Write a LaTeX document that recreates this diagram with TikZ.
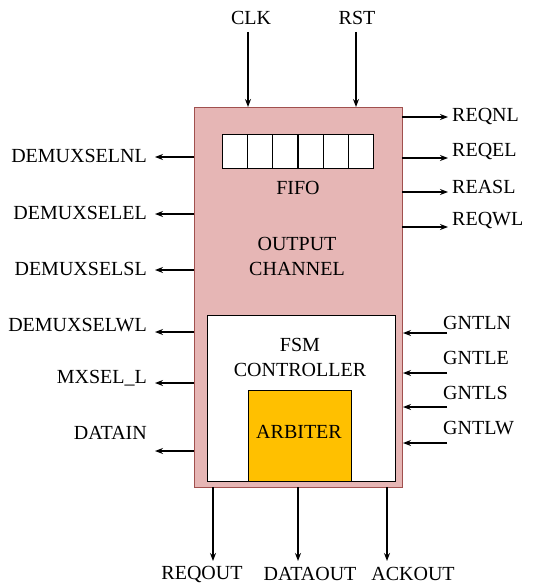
\documentclass[tikz,border=0pt]{standalone}
\usepackage{fontspec}
\setmainfont{Liberation Serif}
\usetikzlibrary{arrows.meta}
\definecolor{pinkfill}{RGB}{230,182,181}
\definecolor{pinkdraw}{RGB}{160,80,78}
\definecolor{arbfill}{RGB}{255,192,0}
\begin{document}
\begin{tikzpicture}[x=1pt,y=-1pt,
  lbl/.style={font=\rmfamily\fontsize{20}{22}\selectfont, inner sep=0pt},
  sig/.style={line width=1.4pt, -{Stealth[length=8pt,width=6pt]}},
  cell/.style={draw=black, line width=1pt, fill=white, minimum width=25pt, minimum height=34pt, inner sep=0pt, anchor=north west}]
\useasboundingbox (0,0) rectangle (534,588);
\fill[white] (0,0) rectangle (534,588);
% main box
\node[draw=pinkdraw, fill=pinkfill, line width=0.8pt, minimum width=208pt, minimum height=380pt, anchor=north west, inner sep=0pt] (main) at (194,107) {};
% FIFO cells
\foreach \i in {0,...,5} {
  \node[cell] (c\i) at (222+25.2*\i,134) {};
}
\node[lbl] (fifo) at (298,188) {FIFO};
\node[lbl, align=center] (oc) at (297,256) {OUTPUT\\[3pt]CHANNEL};
% FSM box
\node[draw=black, fill=white, line width=1pt, minimum width=188pt, minimum height=166pt, anchor=north west, inner sep=0pt] (fsm) at (207,315) {};
\node[lbl, align=center] (fsml) at (300,357) {FSM\\[3pt]CONTROLLER};
% Arbiter
\node[draw=black, fill=arbfill, line width=1pt, minimum width=103pt, minimum height=91pt, anchor=north west, inner sep=0pt] (arb) at (248,390) {};
\node[lbl] (arbl) at (299,432) {ARBITER};
% top inputs
\node[lbl] (clk) at (251,18) {CLK};
\node[lbl] (rst) at (357,18) {RST};
\coordinate (clkt) at (248,32);
\coordinate (rstt) at (356,32);
\draw[sig] (clkt) -- (clkt |- main.north);
\draw[sig] (rstt) -- (rstt |- main.north);
% right outputs
\foreach \n/\t/\ya/\yl in {reqnl/REQNL/117/117, reqel/REQEL/158/152, reasl/REASL/192/187, reqwl/REQWL/227/220} {
  \coordinate (\n s) at (402,\ya);
  \coordinate (\n e) at (448,\ya);
  \node[lbl, anchor=west] (\n) at (452,\yl) {\t};
  \draw[sig] (\n s) -- (\n e);
}
% right inputs
\foreach \n/\t/\ya/\yl in {gntln/GNTLN/333/323, gntle/GNTLE/373/358, gntls/GNTLS/407/393, gntlw/GNTLW/443/428} {
  \coordinate (\n s) at (447,\ya);
  \coordinate (\n e) at (403,\ya);
  \node[lbl, anchor=west] (\n) at (443,\yl) {\t};
  \draw[sig] (\n s) -- (\n e);
}
% left outputs
\foreach \n/\t/\ya/\yl in {dnl/DEMUXSELNL/157/156, del/DEMUXSELEL/214/213, dsl/DEMUXSELSL/270/269, dwl/DEMUXSELWL/332/325, mxs/MXSEL\_L/383/378, din/DATAIN/451/433} {
  \coordinate (\n s) at (194,\ya);
  \coordinate (\n e) at (155,\ya);
  \node[lbl, anchor=east] (\n) at (147,\yl) {\t};
  \draw[sig] (\n s) -- (\n e);
}
% bottom outputs
\node[lbl] (reqout) at (202,574) {REQOUT};
\node[lbl] (dataout) at (310,574) {DATAOUT};
\node[lbl] (ackout) at (413,574) {ACKOUT};
\coordinate (b1) at (213,487);
\coordinate (b2) at (298,487);
\coordinate (b3) at (387,487);
\draw[sig] (b1) -- ++(0,74);
\draw[sig] (b2) -- ++(0,74);
\draw[sig] (b3) -- ++(0,74);
\end{tikzpicture}
\end{document}
